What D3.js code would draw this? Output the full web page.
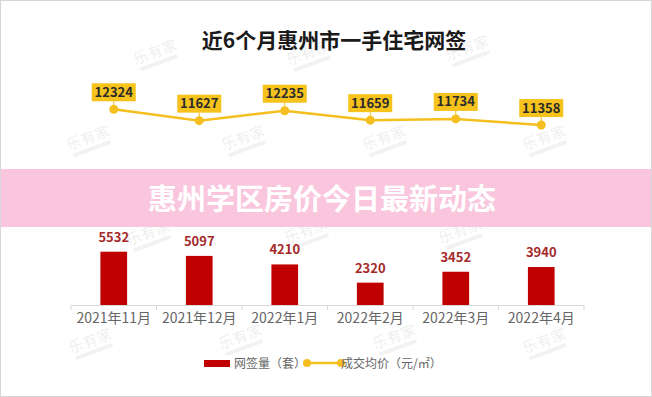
<!DOCTYPE html>
<html>
<head>
<meta charset="utf-8">
<script src="https://cdn.jsdelivr.net/npm/d3@7/dist/d3.min.js"></script>
<style>
  html, body { margin: 0; padding: 0; background: #fff; }
  svg { display: block; font-family: "Noto Sans CJK SC", "Noto Sans", sans-serif; }
</style>
</head>
<body>
<div id="chart"></div>
<script>
// 数据
var months = ["2021年11月", "2021年12月", "2022年1月", "2022年2月", "2022年3月", "2022年4月"];
var signCount = [5532, 5097, 4210, 2320, 3452, 3940];       // 网签量（套）
var avgPrice = [12324, 11627, 12235, 11659, 11734, 11358];  // 成交均价（元/㎡）
var titleText = "近6个月惠州市一手住宅网签";
var bannerText = "惠州学区房价今日最新动态";
var legendNames = ["网签量（套）", "成交均价（元/㎡）"];

var width = 652, height = 397;

var svg = d3.select("#chart").append("svg")
    .attr("width", width)
    .attr("height", height);

svg.append("rect")
    .attr("x", 0.5).attr("y", 0.5)
    .attr("width", width - 1).attr("height", height - 1)
    .attr("fill", "#fff")
    .attr("stroke", "#d6d6d6");

// 比例尺
var x = d3.scaleBand().domain(months).range([71, 584]);
var yBar = d3.scaleLinear().domain([0, 6000]).range([305, 247.2]);
var yLine = d3.scaleLinear().domain([11000, 12500]).range([130.9, 106.4]);

// 水印
var marks = [[157, 57], [310, 58], [469, 53], [90, 143], [245, 143], [386, 143], [546, 143],
    [150, 238], [308, 236], [462, 236], [92, 346], [242, 342], [396, 342], [546, 346]];
var wm = svg.append("g").attr("class", "watermark");
marks.forEach(function (m) {
    var g = wm.append("g").attr("transform", "translate(" + m[0] + "," + m[1] + ")rotate(-20)");
    g.append("text")
        .attr("text-anchor", "middle")
        .attr("font-size", 15)
        .attr("font-weight", 700)
        .attr("fill", "#000")
        .attr("fill-opacity", 0.06)
        .text("乐有家");
    g.append("rect")
        .attr("x", -20).attr("y", 4)
        .attr("width", 40).attr("height", 4)
        .attr("rx", 2)
        .attr("fill", "#000")
        .attr("fill-opacity", 0.05);
});

// 标题
svg.append("text")
    .attr("x", 334).attr("y", 48)
    .attr("text-anchor", "middle")
    .attr("font-size", 21)
    .attr("font-weight", 700)
    .attr("fill", "#1a1a1a")
    .text(titleText);

// 折线
var line = d3.line()
    .x(function (d, i) { return x(months[i]) + x.bandwidth() / 2; })
    .y(function (d) { return yLine(d); });

svg.append("path")
    .datum(avgPrice)
    .attr("d", line)
    .attr("fill", "none")
    .attr("stroke", "#f5bf1f")
    .attr("stroke-width", 2.5);

var pts = svg.selectAll(".pt")
    .data(avgPrice)
    .enter().append("g")
    .attr("class", "pt")
    .attr("transform", function (d, i) {
        return "translate(" + (x(months[i]) + x.bandwidth() / 2) + "," + yLine(d) + ")";
    });

pts.append("line")
    .attr("y1", -8).attr("y2", 0)
    .attr("stroke", "#f5bf1f")
    .attr("stroke-width", 1);

pts.append("circle")
    .attr("r", 4.5)
    .attr("fill", "#f5bf1f");

pts.append("rect")
    .attr("x", -22).attr("y", -26)
    .attr("width", 44).attr("height", 18)
    .attr("fill", "#f6c21c");

pts.append("text")
    .attr("y", -12.5)
    .attr("text-anchor", "middle")
    .attr("font-size", 13)
    .attr("font-weight", 700)
    .attr("fill", "#2b2b2b")
    .text(function (d) { return d; });

// 粉色横幅
svg.append("rect")
    .attr("x", 1).attr("y", 169)
    .attr("width", width - 2).attr("height", 58)
    .attr("fill", "#f9c6de");

svg.append("text")
    .attr("x", 322).attr("y", 209.5)
    .attr("text-anchor", "middle")
    .attr("font-size", 29)
    .attr("font-weight", 700)
    .attr("fill", "#fff")
    .text(bannerText);

// 柱子
var bw = 26.7;
svg.selectAll(".bar")
    .data(signCount)
    .enter().append("rect")
    .attr("class", "bar")
    .attr("x", function (d, i) { return x(months[i]) + x.bandwidth() / 2 - bw / 2; })
    .attr("y", function (d) { return yBar(d); })
    .attr("width", bw)
    .attr("height", function (d) { return yBar(0) - yBar(d); })
    .attr("fill", "#c00000");

svg.selectAll(".barlabel")
    .data(signCount)
    .enter().append("text")
    .attr("class", "barlabel")
    .attr("x", function (d, i) { return x(months[i]) + x.bandwidth() / 2; })
    .attr("y", function (d) { return yBar(d) - 10; })
    .attr("text-anchor", "middle")
    .attr("font-size", 13)
    .attr("font-weight", 700)
    .attr("fill", "#a52a2a")
    .text(function (d) { return d; });

// 横轴
var axis = svg.append("g")
    .attr("transform", "translate(0,305)")
    .call(d3.axisBottom(x).tickSize(0).tickPadding(8));
axis.select(".domain").attr("stroke", "#d9d9d9");
axis.selectAll(".tick text")
    .attr("font-size", 14)
    .attr("fill", "#666")
    .attr("font-family", "\"Noto Sans CJK SC\", sans-serif");

var bounds = months.map(function (m) { return x(m); }).concat([x.range()[1]]);
axis.selectAll(".bound")
    .data(bounds)
    .enter().append("line")
    .attr("class", "bound")
    .attr("x1", function (d) { return d; })
    .attr("x2", function (d) { return d; })
    .attr("y1", 0).attr("y2", 5)
    .attr("stroke", "#d9d9d9");

// 图例
var lg = svg.append("g").attr("transform", "translate(0,363)");
lg.append("rect")
    .attr("x", 204).attr("y", -3)
    .attr("width", 26).attr("height", 7)
    .attr("fill", "#c00000");
lg.append("text")
    .attr("x", 234).attr("y", 4.5)
    .attr("font-size", 12)
    .attr("fill", "#666")
    .text(legendNames[0]);
lg.append("line")
    .attr("x1", 307).attr("x2", 341)
    .attr("stroke", "#f5bf1f")
    .attr("stroke-width", 2.5);
lg.selectAll(".lgdot")
    .data([307, 341])
    .enter().append("circle")
    .attr("cx", function (d) { return d; })
    .attr("r", 4)
    .attr("fill", "#f5bf1f");
lg.append("text")
    .attr("x", 341).attr("y", 4.5)
    .attr("font-size", 12)
    .attr("fill", "#666")
    .text(legendNames[1]);
</script>
</body>
</html>
